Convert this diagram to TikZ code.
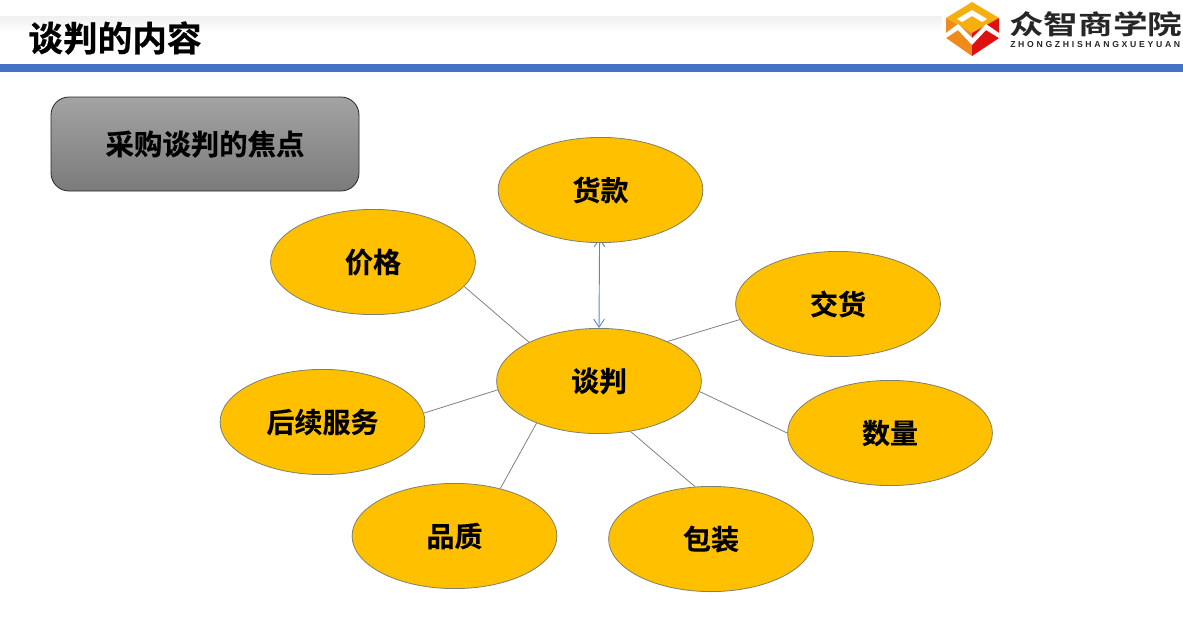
\documentclass[tikz,border=0pt]{standalone}
\usepackage{fontspec}
\usetikzlibrary{shapes.geometric,arrows.meta,backgrounds}
\setmainfont{Noto Sans CJK SC}[BoldFont={* Bold}]
\newfontfamily\cjkbold{Noto Sans CJK SC Bold}[FakeBold=0.25]
\newfontfamily\cjkheavy{Noto Sans CJK SC Bold}[FakeBold=0.6]
\newfontfamily\cjkbrand{Noto Sans CJK SC Bold}[FakeStretch=1.3]
\newfontfamily\latinbold{Liberation Sans Bold}[LetterSpace=31]
\definecolor{gold}{HTML}{FFC000}
\definecolor{edgegrey}{HTML}{7F7F6A}
\definecolor{barblue}{HTML}{4472C4}
\definecolor{linkblue}{HTML}{5F86C8}
\definecolor{linkgrey}{HTML}{808080}
\definecolor{logotop}{HTML}{F5B010}
\definecolor{logoleft}{HTML}{F08A1A}
\definecolor{logoright}{HTML}{E01010}
\tikzset{
  topic/.style={draw=edgegrey,line width=0.6pt,fill=gold,ellipse,inner sep=0pt,
    minimum width=153.6pt,minimum height=78.9pt,font=\cjkbold\fontsize{21}{25}\selectfont,text=black},
  link/.style={draw=linkgrey,line width=0.6pt},
  bothway/.style={draw=linkblue,line width=0.7pt,{Straight Barb[length=6pt,width=8pt]}-{Straight Barb[length=6pt,width=8pt]}},
  focusbox/.style={draw=black!85,line width=0.6pt,rounded corners=13.5pt,top color=black!36,bottom color=black!52,
    minimum width=231pt,minimum height=70.5pt,inner sep=0pt,font=\cjkheavy\fontsize{21.3}{25}\selectfont,text=black},
}
\begin{document}
\begin{tikzpicture}[x=0.75pt,y=-0.75pt]
\useasboundingbox (0,0) rectangle (1183,636);
% header band
\shade[top color=black!6,bottom color=white] (0,16) rectangle (942,32);
\fill[barblue] (0,64) rectangle (1183,72);
\node[anchor=west,inner sep=0pt,font=\cjkheavy\fontsize{26}{30}\selectfont] (title) at (28,38) {谈判的内容};
% logo
\fill[logotop] (972,2) -- (999,18) -- (972,33) -- (946,18) -- cycle;
\fill[logoleft] (946,18) -- (972,33) -- (972,56) -- (946,38) -- cycle;
\fill[logoright] (999,18) -- (972,33) -- (972,56) -- (999,38) -- cycle;
\fill[white] (957,19) -- (972,10) -- (987,19) -- (982,22) -- (972,16) -- (962,22) -- cycle;
\fill[white] (946,33) -- (958,24) -- (972,38) -- (986,24) -- (999,33) -- (999,38) -- (986,30) -- (972,45) -- (958,30) -- (946,38) -- cycle;
\node[anchor=west,inner sep=0pt,font=\cjkbrand\fontsize{20}{24}\selectfont,text=black!85] (brand) at (1009,24) {众智商学院};
\node[anchor=west,inner sep=0pt,font=\latinbold\fontsize{6.5}{8}\selectfont,text=black!85] (brandlatin) at (1010,45) {ZHONGZHISHANGXUEYUAN};
% focus box
\node[focusbox] (focus) at (205,144) {采购谈判的焦点};
% ellipses
\node[topic] (center) at (599,381) {谈判};
\node[topic] (pay) at (600.5,190) {货款};
\node[topic] (price) at (373,262) {价格};
\node[topic] (delivery) at (838,304) {交货};
\node[topic] (amount) at (890,433) {数量};
\node[topic] (pack) at (711,539) {包装};
\node[topic] (quality) at (454.5,536) {品质};
\node[topic] (service) at (322.5,422) {后续服务};
% connectors
\begin{scope}[on background layer]
\draw[bothway] (pay.-91) ++(0,-5) -- (center.90);
\end{scope}
\draw[link] (price.-15.4) -- (center.151.5);
\draw[link] (delivery.189.6) -- (center.30.6);
\draw[link] (amount.180) -- (center.-6);
\draw[link] (pack.107.5) -- (center.-58);
\draw[link] (quality.46.9) -- (center.214);
\draw[link] (service.5.6) -- (center.185.7);
\end{tikzpicture}
\end{document}
